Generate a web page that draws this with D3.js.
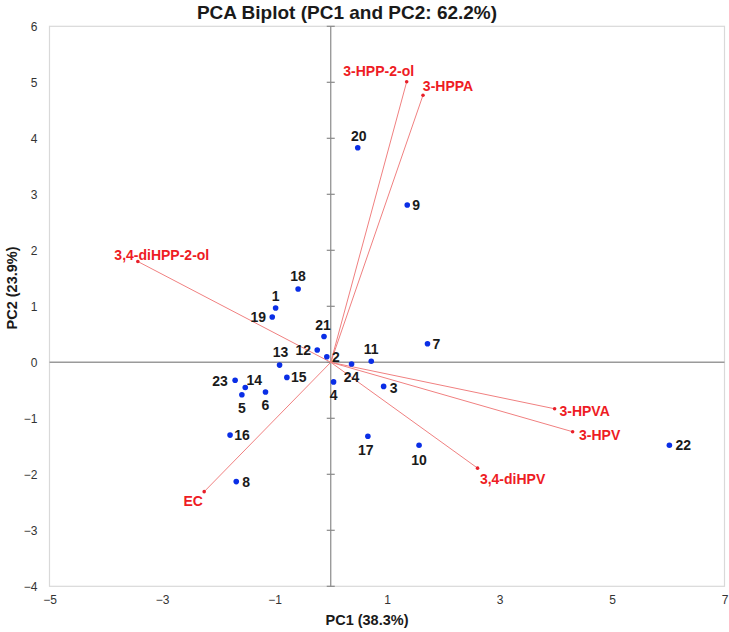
<!DOCTYPE html>
<html>
<head>
<meta charset="utf-8">
<script src="https://cdn.jsdelivr.net/npm/d3@7"></script>
<style>
  html, body { margin: 0; padding: 0; background: #fff; }
  svg { display: block; font-family: Arial, "Liberation Sans", sans-serif; }
</style>
</head>
<body>
<svg id="chart" width="729" height="632"></svg>
<script>
// ---- data ----
const scoreNames = ["1","2","3","4","5","6","7","8","9","10","11","12","13","14","15","16","17","18","19","20","21","22","23","24"];
const scorePC1 = [-0.98,-0.07,0.94,0.05,-1.58,-1.16,1.72,-1.68,1.36,1.57,0.72,-0.24,-0.91,-1.52,-0.78,-1.79,0.66,-0.58,-1.04,0.48,-0.12,6.02,-1.70,0.37];
const scorePC2 = [0.97,0.10,-0.43,-0.35,-0.58,-0.53,0.33,-2.13,2.81,-1.48,0.02,0.22,-0.05,-0.45,-0.27,-1.30,-1.32,1.31,0.81,3.83,0.46,-1.48,-0.32,-0.03];

const loadingNames = ["3-HPP-2-ol","3-HPPA","3,4-diHPP-2-ol","EC","3-HPVA","3-HPV","3,4-diHPV"];
const loadingPC1 = [1.35,1.64,-3.43,-2.25,3.98,4.30,2.61];
const loadingPC2 = [5.01,4.77,1.80,-2.31,-0.83,-1.24,-1.89];

const xTicks = [-5,-3,-1,1,3,5,7];
const yTicks = [-4,-3,-2,-1,0,1,2,3,4,5,6];
const titleText = "PCA Biplot (PC1 and PC2: 62.2%)";
const xTitle = "PC1 (38.3%)";
const yTitle = "PC2 (23.9%)";

// ---- label placement (styling) ----
const scoreLabelOffset = {
  "1":[0,-12],"2":[9,0],"3":[10,2],"4":[0,13],"5":[0,13],"6":[0,13],"7":[9,0],"8":[10,0],
  "9":[9,0],"10":[0,15],"11":[0,-12],"12":[-14,0],"13":[1,-13],"14":[9,-8],"15":[12,0],
  "16":[12,0],"17":[-2,14],"18":[0,-13],"19":[-14,0],"20":[1,-12],"21":[-1,-12],"22":[14,0],
  "23":[-15,1],"24":[0,13]
};
const loadingLabelOffset = {
  "3-HPP-2-ol":[-28,-11],"3-HPPA":[25,-9],"3,4-diHPP-2-ol":[24,-7],"EC":[-11,9],
  "3-HPVA":[30,2],"3-HPV":[27,3],"3,4-diHPV":[35,11]
};

// ---- chart ----
const svg = d3.select("#chart");
const plotL = 49.5, plotR = 724.5, plotT = 26.3, plotB = 586.3;
const x = d3.scaleLinear().domain([-5,7]).range([plotL,plotR]);
const y = d3.scaleLinear().domain([-4,6]).range([plotB,plotT]);

// frame
svg.append("rect").attr("x",plotL).attr("y",plotT)
  .attr("width",plotR-plotL).attr("height",plotB-plotT)
  .attr("fill","none").attr("stroke","#d9d9d9").attr("stroke-width",1.2);

// tick labels via axes
const xAxis = svg.append("g").attr("transform",`translate(0,${plotB})`)
  .call(d3.axisBottom(x).tickValues(xTicks).tickSize(0).tickPadding(9).tickFormat(d3.format("d")));
const yAxis = svg.append("g").attr("transform",`translate(${plotL},0)`)
  .call(d3.axisLeft(y).tickValues(yTicks).tickSize(0).tickPadding(12).tickFormat(d3.format("d")));
[xAxis,yAxis].forEach(g=>{
  g.select(".domain").remove();
  g.selectAll("text").attr("font-size",12).attr("fill","#333")
    .attr("font-family","Arial, 'Liberation Sans', sans-serif");
});

// zero lines
svg.append("line").attr("x1",plotL).attr("x2",plotR).attr("y1",y(0)).attr("y2",y(0))
  .attr("stroke","#9a9a9a").attr("stroke-width",1.5);
svg.append("line").attr("x1",x(0)).attr("x2",x(0)).attr("y1",plotT).attr("y2",plotB)
  .attr("stroke","#8a8a8a").attr("stroke-width",1.2);
svg.append("g").selectAll("line").data(yTicks).join("line")
  .attr("x1",x(0)-4).attr("x2",x(0)+4).attr("y1",d=>y(d)).attr("y2",d=>y(d))
  .attr("stroke","#8a8a8a").attr("stroke-width",1.2);

// loadings
const loadings = loadingNames.map((n,i)=>({name:n,pc1:loadingPC1[i],pc2:loadingPC2[i]}));
const lg = svg.append("g");
lg.selectAll("line").data(loadings).join("line")
  .attr("x1",x(0)).attr("y1",y(0)).attr("x2",d=>x(d.pc1)).attr("y2",d=>y(d.pc2))
  .attr("stroke","#f08080").attr("stroke-width",1);
lg.selectAll("circle").data(loadings).join("circle")
  .attr("cx",d=>x(d.pc1)).attr("cy",d=>y(d.pc2)).attr("r",1.8).attr("fill","#e8202a");
lg.selectAll("text").data(loadings).join("text")
  .attr("x",d=>x(d.pc1)+loadingLabelOffset[d.name][0])
  .attr("y",d=>y(d.pc2)+loadingLabelOffset[d.name][1])
  .attr("text-anchor","middle").attr("dominant-baseline","central")
  .attr("font-size",14).attr("font-weight","bold").attr("fill","#ee1c24")
  .text(d=>d.name);

// scores
const scores = scoreNames.map((n,i)=>({name:n,pc1:scorePC1[i],pc2:scorePC2[i]}));
const sg = svg.append("g");
sg.selectAll("circle").data(scores).join("circle")
  .attr("cx",d=>x(d.pc1)).attr("cy",d=>y(d.pc2)).attr("r",2.8).attr("fill","#0a2ee6");
sg.selectAll("text").data(scores).join("text")
  .attr("x",d=>x(d.pc1)+scoreLabelOffset[d.name][0])
  .attr("y",d=>y(d.pc2)+scoreLabelOffset[d.name][1])
  .attr("text-anchor","middle").attr("dominant-baseline","central")
  .attr("font-size",14).attr("font-weight","bold").attr("fill","#1a1a1a")
  .text(d=>d.name);

// titles
svg.append("text").attr("x",347).attr("y",12).attr("text-anchor","middle")
  .attr("dominant-baseline","central").attr("font-size",19).attr("font-weight","bold")
  .attr("fill","#1a1a1a").text(titleText);
svg.append("text").attr("x",367).attr("y",620).attr("text-anchor","middle")
  .attr("dominant-baseline","central").attr("font-size",14.5).attr("font-weight","bold")
  .attr("fill","#1a1a1a").text(xTitle);
svg.append("text").attr("transform","translate(12,288) rotate(-90)").attr("text-anchor","middle")
  .attr("dominant-baseline","central").attr("font-size",14.5).attr("font-weight","bold")
  .attr("fill","#1a1a1a").text(yTitle);
</script>
</body>
</html>
